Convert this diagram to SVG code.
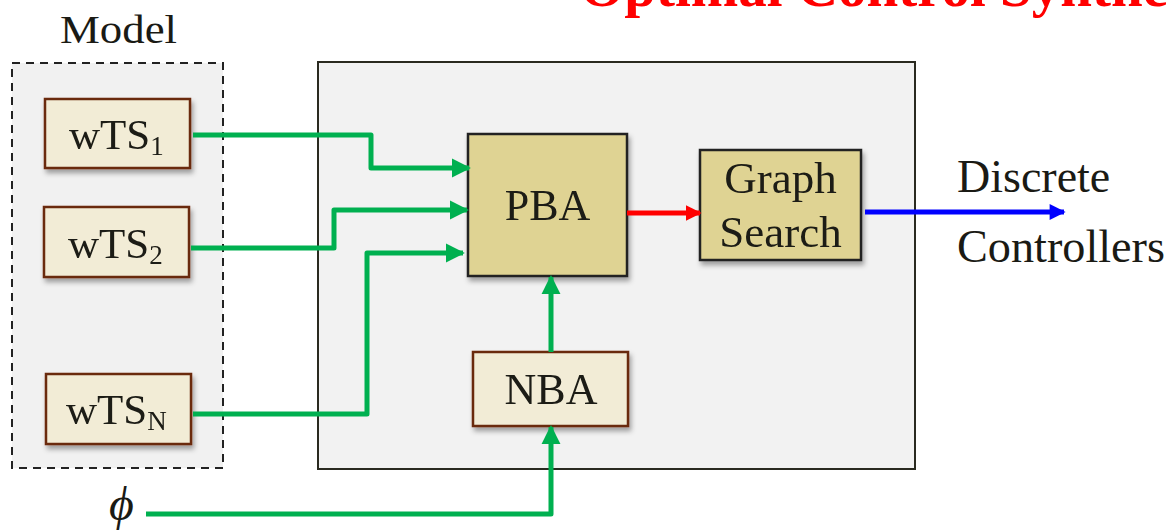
<svg xmlns="http://www.w3.org/2000/svg" width="1168" height="532" viewBox="0 0 1168 532">
  <style>
    .txt { font-family: "Liberation Serif", "DejaVu Serif", serif; fill: #1a1a14; }
    .ts { fill: #F2ECD6; stroke: #6B2A0C; stroke-width: 2.5; }
    .core { fill: #DFD393; stroke: #222; stroke-width: 2.5; }
    .wire { fill: none; stroke: #00B050; stroke-width: 5; stroke-linejoin: round; }
  </style>
  <defs>
    <filter id="shadow" x="-10%" y="-10%" width="130%" height="140%">
      <feDropShadow dx="2" dy="4" stdDeviation="2.5" flood-color="#000" flood-opacity="0.35"/>
    </filter>
    <marker id="arrowGreen" viewBox="0 0 10 10" refX="9" refY="5" markerUnits="userSpaceOnUse" markerWidth="19" markerHeight="20" orient="auto">
      <path d="M0,0 L10,5 L0,10 Z" fill="#00B050"/>
    </marker>
    <marker id="arrowRed" viewBox="0 0 10 10" refX="9" refY="5" markerUnits="userSpaceOnUse" markerWidth="16" markerHeight="16" orient="auto">
      <path d="M0,0 L10,5 L0,10 Z" fill="#FF0000"/>
    </marker>
    <marker id="arrowBlue" viewBox="0 0 10 10" refX="9" refY="5" markerUnits="userSpaceOnUse" markerWidth="18" markerHeight="16" orient="auto">
      <path d="M0,0 L10,5 L0,10 Z" fill="#0000FF"/>
    </marker>
  </defs>

  <rect width="1168" height="532" fill="#FFFFFF"/>

  <!-- heading, running off the top edge -->
  <text x="580" y="6" font-family="Liberation Serif, serif" font-weight="bold" font-size="57" fill="#FF0000">Optimal Control Synthesis</text>

  <!-- model container -->
  <g id="model">
    <rect x="12" y="63" width="211" height="405" fill="#F1F1F1" stroke="#222" stroke-width="2" stroke-dasharray="8,6"/>
    <text class="txt" x="60" y="43" font-size="40" textLength="117" lengthAdjust="spacingAndGlyphs">Model</text>
  </g>

  <!-- synthesis frame -->
  <g id="synthesis">
    <rect x="318" y="62" width="597" height="407" fill="#F2F2F2" stroke="#2a2a20" stroke-width="2"/>
  </g>

  <g id="wts1" filter="url(#shadow)">
    <rect class="ts" x="45" y="99" width="145" height="69"/>
    <text class="txt" x="69" y="149" font-size="43">wTS<tspan font-size="27" dy="6">1</tspan></text>
  </g>
  <g id="wts2" filter="url(#shadow)">
    <rect class="ts" x="44" y="207" width="145" height="70"/>
    <text class="txt" x="68" y="258" font-size="43">wTS<tspan font-size="27" dy="6">2</tspan></text>
  </g>
  <g id="wtsN" filter="url(#shadow)">
    <rect class="ts" x="46" y="374" width="145" height="70"/>
    <text class="txt" x="66" y="424" font-size="43">wTS<tspan font-size="27" dy="6">N</tspan></text>
  </g>

  <g id="pba" filter="url(#shadow)">
    <rect class="core" x="468" y="134" width="159" height="142"/>
    <text class="txt" x="547.5" y="220" font-size="44" text-anchor="middle">PBA</text>
  </g>
  <g id="graph-search" filter="url(#shadow)">
    <rect class="core" x="700" y="150" width="161" height="110"/>
    <text class="txt" x="780.5" y="193" font-size="45" text-anchor="middle">Graph</text>
    <text class="txt" x="780.5" y="247" font-size="45" text-anchor="middle">Search</text>
  </g>
  <g id="nba" filter="url(#shadow)">
    <rect class="ts" x="473" y="352" width="155" height="74"/>
    <text class="txt" x="551" y="404" font-size="44" text-anchor="middle">NBA</text>
  </g>

  <g id="phi">
    <text x="109" y="520" font-family="Liberation Serif, serif" font-style="italic" font-size="48" fill="#1a1a14">ϕ</text>
  </g>

  <g id="output">
    <text class="txt" x="957" y="192" font-size="46">Discrete</text>
    <text class="txt" x="957" y="262" font-size="46" textLength="208" lengthAdjust="spacingAndGlyphs">Controllers</text>
  </g>

  <!-- connectors -->
  <g id="connectors">
    <path class="wire" d="M193,135 H371 V168 H469" marker-end="url(#arrowGreen)"/>
    <path class="wire" d="M191,248 H334 V210 H467" marker-end="url(#arrowGreen)"/>
    <path class="wire" d="M193,414 H367 V253 H463" marker-end="url(#arrowGreen)"/>
    <path class="wire" d="M146,514 H551 V427" marker-end="url(#arrowGreen)"/>
    <path class="wire" d="M551,352 V277" marker-end="url(#arrowGreen)"/>
    <path d="M627,213 H700" fill="none" stroke="#FF0000" stroke-width="5" marker-end="url(#arrowRed)"/>
    <path d="M865,212 H1064" fill="none" stroke="#0000FF" stroke-width="5" marker-end="url(#arrowBlue)"/>
  </g>
</svg>
